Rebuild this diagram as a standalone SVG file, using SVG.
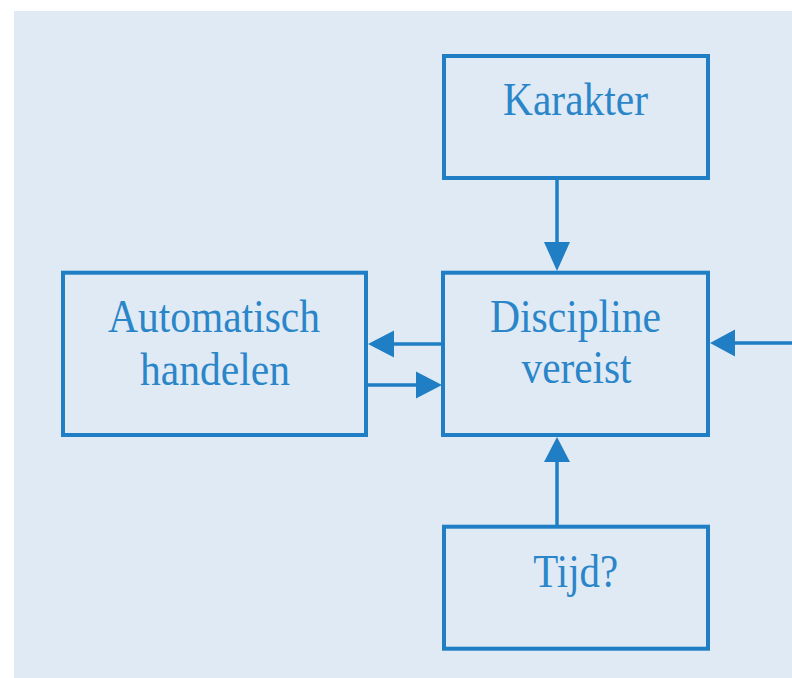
<svg xmlns="http://www.w3.org/2000/svg" width="792" height="678" viewBox="0 0 792 678">
  <style>
    .box { fill: none; stroke: #1f7ec4; stroke-width: 4; }
    .shaft { stroke: #1f7ec4; stroke-width: 3.5; fill: none; }
    .head { fill: #1f7ec4; }
    .lbl { font-family: "Liberation Serif", "Times New Roman", serif; font-size: 47px; fill: #2a86c9; text-anchor: middle; }
  </style>
  <rect x="0" y="0" width="792" height="678" fill="#ffffff"/>
  <rect x="14" y="11" width="778" height="667" fill="#e0eaf5"/>

  <g id="karakter">
    <rect class="box" x="444" y="56" width="264" height="122"/>
    <text class="lbl" x="575.5" y="115" textLength="145" lengthAdjust="spacingAndGlyphs">Karakter</text>
  </g>

  <g id="automatisch-handelen">
    <rect class="box" x="63" y="272.7" width="303" height="162.3"/>
    <text class="lbl" x="214" y="331.5" textLength="212" lengthAdjust="spacingAndGlyphs">Automatisch</text>
    <text class="lbl" x="215" y="385" textLength="150" lengthAdjust="spacingAndGlyphs">handelen</text>
  </g>

  <g id="discipline-vereist">
    <rect class="box" x="443" y="272.7" width="265" height="162.3"/>
    <text class="lbl" x="575.5" y="331.5" textLength="171" lengthAdjust="spacingAndGlyphs">Discipline</text>
    <text class="lbl" x="576.5" y="383" textLength="110" lengthAdjust="spacingAndGlyphs">vereist</text>
  </g>

  <g id="tijd">
    <rect class="box" x="444" y="526.7" width="264" height="122"/>
    <text class="lbl" x="575.7" y="586.5" textLength="85" lengthAdjust="spacingAndGlyphs">Tijd?</text>
  </g>

  <g id="connectors">
    <!-- Karakter -> Discipline -->
    <line class="shaft" x1="557" y1="179" x2="557" y2="244"/>
    <polygon class="head" points="544,242 570,242 557,271"/>
    <!-- Discipline -> Automatisch -->
    <line class="shaft" x1="442" y1="344" x2="391" y2="344"/>
    <polygon class="head" points="394,330.5 394,357.5 368,344"/>
    <!-- Automatisch -> Discipline -->
    <line class="shaft" x1="367" y1="385" x2="419" y2="385"/>
    <polygon class="head" points="416,371.5 416,398.5 442,385"/>
    <!-- incoming from the right -> Discipline -->
    <line class="shaft" x1="792" y1="343" x2="732" y2="343"/>
    <polygon class="head" points="735,329.5 735,356.5 710,343"/>
    <!-- Tijd -> Discipline -->
    <line class="shaft" x1="557" y1="525" x2="557" y2="459"/>
    <polygon class="head" points="544,462 570,462 557,437"/>
  </g>
</svg>
